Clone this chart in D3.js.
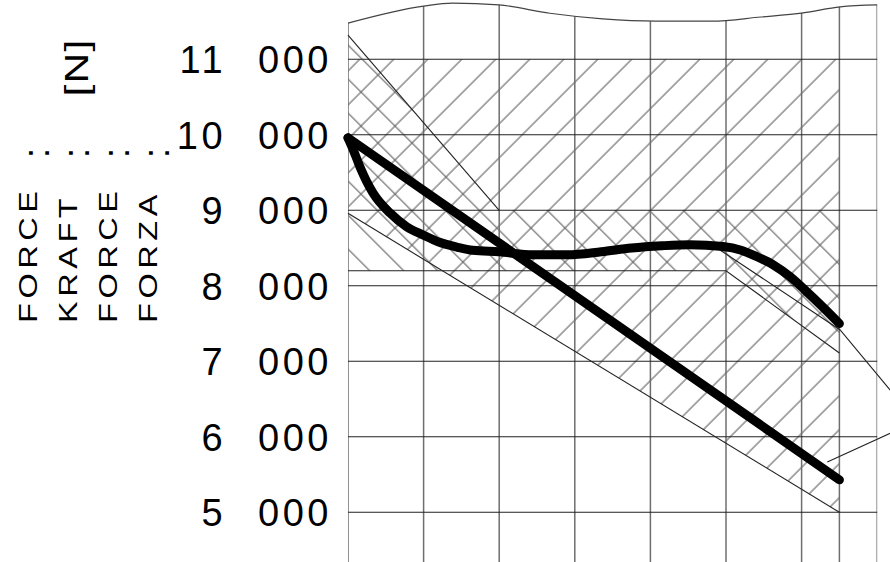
<!DOCTYPE html>
<html lang="en">
<head>
    <meta charset="utf-8">
    <title>Force diagram</title>
    <script src="https://d3js.org/d3.v7.min.js"></script>
    <style>
        body { margin: 0; background: #fff; }
        svg { display: block; }
        text { font-family: "Liberation Sans", Arial, sans-serif; fill: #000; }
    </style>
</head>
<body>
<div id="chart"></div>
<script>
    // grid
    const xGrid = [0, 1, 2, 3, 4, 5, 6, 6.5, 7];
    const forceTicks = [11000, 10000, 9000, 8000, 7000, 6000, 5000];
    const tickThousands = ["11", "10", "9", "8", "7", "6", "5"];
    const tickRest = ["000", "000", "000", "000", "000", "000", "000"];

    // left caption
    const captions = ["FORCE", "KRAFT", "FORCE", "FORZA"];
    const unitLabel = "[N]";

    // break line at the top of the sheet
    const breakX = [0, 1.0, 1.38, 2.0, 2.67, 3.37, 4.07, 4.81, 5.46, 6.02, 6.51, 7.0];
    const breakF = [11480, 11705, 11745, 11720, 11610, 11535, 11505, 11505, 11560, 11615, 11695, 11720];

    // S shaped characteristic
    const curveX = [0, 0.07, 0.16, 0.33, 0.56, 0.78, 1.0, 1.2, 1.45, 1.65, 2.0, 2.45, 2.9, 3.35, 3.75, 4.15, 4.52, 4.96, 5.19, 5.41, 5.63, 5.85, 6.07, 6.28, 6.5];
    const curveF = [9960, 9800, 9570, 9230, 8960, 8780, 8670, 8580, 8510, 8470, 8450, 8410, 8410, 8450, 8500, 8530, 8545, 8520, 8475, 8385, 8275, 8120, 7920, 7720, 7500];

    // linear characteristic
    const lineX = [0, 6.5];
    const lineF = [9960, 5430];

    // tolerance fields
    const bandAX = [0, 6.5, 6.5, 0];
    const bandAF = [11000, 11000, 5000, 8960];
    const bandBX = [0, 2.0, 6.5, 6.5, 5.0, 0];
    const bandBF = [11320, 9000, 9000, 7110, 8200, 8200];

    // outline edges of the fields and leader lines
    const edges = [
        {x: [0, 2.0], f: [11320, 9000]},
        {x: [0, 5.0, 6.5], f: [8200, 8200, 7110]},
        {x: [0, 6.5], f: [8960, 5000]},
        {x: [4.92, 6.51, 7.2], f: [8475, 7415, 6585]},
        {x: [6.34, 7.2], f: [5665, 6060]}
    ];

    const width = 890, height = 562;

    const x = d3.scaleLinear().domain([0, 7]).range([348, 877.2]);
    const y = d3.scaleLinear().domain([5000, 11000]).range([512.3, 59.3]);

    const svg = d3.select("#chart").append("svg")
        .attr("width", width)
        .attr("height", height);

    const defs = svg.append("defs");

    const hatch = (id, angle, offset) => {
        const step = 34 / Math.SQRT2;
        defs.append("pattern")
            .attr("id", id)
            .attr("patternUnits", "userSpaceOnUse")
            .attr("width", step)
            .attr("height", step)
            .attr("patternTransform", `rotate(${angle})`)
            .append("line")
            .attr("x1", offset).attr("x2", offset)
            .attr("y1", -1).attr("y2", step + 1)
            .attr("stroke", "#5e5e5e")
            .attr("stroke-width", 1.1);
    };
    hatch("hatchA", 45, 7.8);
    hatch("hatchB", -45, 21.9);

    const breakPts = breakX.map((v, i) => [v, breakF[i]]);

    defs.append("clipPath").attr("id", "sheet")
        .append("path")
        .attr("d", d3.area()
            .x(d => x(d[0]))
            .y0(height + 5)
            .y1(d => y(d[1]))
            .curve(d3.curveMonotoneX)(breakPts));

    const poly = (xs, fs) => xs.map((v, i) => [x(v), y(fs[i])]);

    svg.append("polygon")
        .attr("points", poly(bandAX, bandAF).join(" "))
        .attr("fill", "url(#hatchA)");
    svg.append("polygon")
        .attr("points", poly(bandBX, bandBF).join(" "))
        .attr("fill", "url(#hatchB)");

    // vertical grid, cut by the break line
    svg.append("g")
        .attr("clip-path", "url(#sheet)")
        .selectAll("line")
        .data(xGrid)
        .join("line")
        .attr("x1", d => x(d)).attr("x2", d => x(d))
        .attr("y1", 0).attr("y2", height)
        .attr("stroke", "#6e6e6e")
        .attr("stroke-width", 1.5);

    svg.append("g")
        .selectAll("line")
        .data(forceTicks)
        .join("line")
        .attr("x1", x(0)).attr("x2", x(7))
        .attr("y1", d => y(d)).attr("y2", d => y(d))
        .attr("stroke", "#222")
        .attr("stroke-width", 1.1);

    svg.append("path")
        .attr("d", d3.line()
            .x(d => x(d[0]))
            .y(d => y(d[1]))
            .curve(d3.curveMonotoneX)(breakPts))
        .attr("fill", "none")
        .attr("stroke", "#444")
        .attr("stroke-width", 1.2);

    const thin = d3.line().x(d => x(d[0])).y(d => y(d[1]));
    svg.append("g")
        .selectAll("path")
        .data(edges)
        .join("path")
        .attr("d", e => thin(e.x.map((v, i) => [v, e.f[i]])))
        .attr("fill", "none")
        .attr("stroke", "#222")
        .attr("stroke-width", 1.1);

    // characteristics
    const thick = d3.line()
        .x(d => x(d[0]))
        .y(d => y(d[1]))
        .curve(d3.curveMonotoneX);

    svg.append("g")
        .attr("fill", "none")
        .attr("stroke", "#000")
        .attr("stroke-width", 9)
        .attr("stroke-linecap", "round")
        .attr("stroke-linejoin", "round")
        .selectAll("path")
        .data([
            lineX.map((v, i) => [v, lineF[i]]),
            curveX.map((v, i) => [v, curveF[i]])
        ])
        .join("path")
        .attr("d", thick);

    // force tick labels
    const labels = svg.append("g")
        .selectAll("text")
        .data(forceTicks)
        .join("text")
        .attr("x", 332)
        .attr("y", d => y(d) + 14)
        .attr("text-anchor", "end")
        .attr("font-size", 38)
        .attr("letter-spacing", 3.5)
        .attr("xml:space", "preserve");
    labels.append("tspan").text((d, i) => tickThousands[i]);
    labels.append("tspan").attr("dx", 18).text((d, i) => " " + tickRest[i]);

    // rotated caption
    svg.append("g")
        .selectAll("text")
        .data(captions)
        .join("text")
        .attr("transform", (d, i) => `translate(${37 + 40 * i},323) rotate(-90) scale(1.3,1)`)
        .attr("font-size", 25)
        .attr("letter-spacing", 3.5)
        .text(d => d);

    svg.append("g")
        .selectAll("text")
        .data(captions)
        .join("text")
        .attr("transform", (d, i) => `translate(${48.5 + 40 * i},153) rotate(-90)`)
        .attr("text-anchor", "middle")
        .attr("font-size", 36)
        .text(":");

    svg.append("text")
        .attr("transform", "translate(88,67.5) rotate(-90) scale(1.25,1)")
        .attr("text-anchor", "middle")
        .attr("font-size", 34)
        .attr("letter-spacing", 1)
        .text(unitLabel);
</script>
</body>
</html>
